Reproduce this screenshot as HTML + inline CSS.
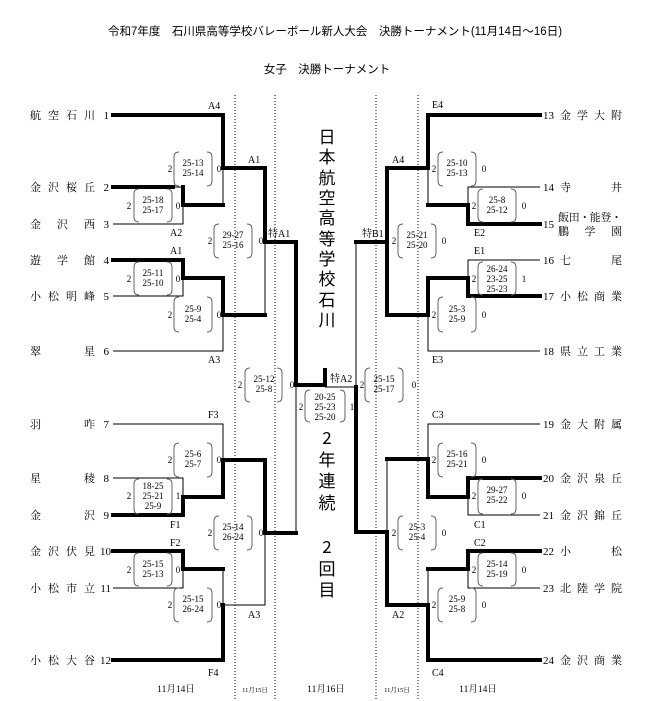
<!DOCTYPE html>
<html><head><meta charset="utf-8"><style>
html,body{margin:0;padding:0;background:#fff;}
svg{display:block;font-family:"Liberation Serif","Noto Serif CJK JP",serif;}
.t{stroke:#000;stroke-width:1;fill:none}
.k{stroke:#000;stroke-width:4;fill:none;stroke-linecap:square}
.d{stroke:#000;stroke-width:1;stroke-dasharray:1,2}
.b{stroke:#666;stroke-width:1;fill:none}
.s{font-size:9px;text-anchor:middle}
.n{font-size:11px}
.lb{font-size:10px}
</style></head><body>
<svg width="653" height="701" viewBox="0 0 653 701" xmlns="http://www.w3.org/2000/svg">
<text x="335" y="35" font-size="11.5" text-anchor="middle" font-family="Liberation Sans,Noto Sans CJK JP,sans-serif">令和7年度　石川県高等学校バレーボール新人大会　決勝トーナメント(11月14日～16日)</text>
<text x="327" y="73" font-size="11.5" text-anchor="middle" font-family="Liberation Sans,Noto Sans CJK JP,sans-serif">女子　決勝トーナメント</text>

<!-- dotted -->
<line class="d" x1="235" y1="95" x2="235" y2="700"/>
<line class="d" x1="275" y1="95" x2="275" y2="700"/>
<line class="d" x1="376" y1="95" x2="376" y2="700"/>
<line class="d" x1="418" y1="95" x2="418" y2="700"/>

<!-- LEFT lines -->
<path class="k" d="M113 115H223V168H265V242H296V385H325V370"/>
<path class="k" d="M113 187H173"/><path class="t" d="M173 187H183"/>
<path class="k" d="M183 187V205H223"/>
<path class="t" d="M223 168V205"/>
<path class="t" d="M113 224H183V205"/>
<path class="k" d="M113 260H183V278H223V315H265"/>
<path class="t" d="M265 242V315"/>
<path class="t" d="M113 296H183V278"/>
<path class="t" d="M113 351H223V315"/>

<path class="t" d="M113 424H223V460"/>
<path class="t" d="M113 478H183V497"/>
<path class="k" d="M113 515H183V497H223V460H265V533H296"/>
<path class="t" d="M296 385V533"/>
<path class="k" d="M113 551H183V569H223"/>
<path class="t" d="M223 569V605H265V533"/>
<path class="t" d="M113 588H183V569"/>
<path class="k" d="M113 660H223V605"/>

<!-- RIGHT lines -->
<path class="k" d="M540 115H428V168H387V315H428V278H468V296H540"/>
<path class="k" d="M387 242H356"/>
<path class="t" d="M356 242V387H325"/>
<path class="t" d="M428 168V205"/>
<path class="k" d="M428 205H468V224H540"/>
<path class="t" d="M540 187H468V205"/>
<path class="t" d="M540 260H468V278"/>
<path class="t" d="M428 315V351H540"/>

<path class="t" d="M540 424H428V459"/>
<path class="k" d="M387 459H428V497H468V478H540"/>
<path class="t" d="M387 459V532"/>
<path class="t" d="M468 497V515H540"/>
<path class="k" d="M356 387V532H387V605H428V660H540"/>
<path class="k" d="M540 551H468V569H428"/>
<path class="t" d="M428 569V605"/>
<path class="t" d="M468 569V588H540"/>

<!-- node labels -->
<g class="lb">
<text x="208" y="109">A4</text><text x="248" y="163">A1</text><text x="170" y="236">A2</text>
<text x="268" y="237">特A1</text><text x="170" y="254">A1</text><text x="208" y="363">A3</text>
<text x="208" y="418">F3</text><text x="170" y="528">F1</text><text x="170" y="546">F2</text>
<text x="248" y="618">A3</text><text x="208" y="676">F4</text>
<text x="330" y="382">特A2</text>
<text x="432" y="108">E4</text><text x="392" y="163">A4</text><text x="362" y="237">特B1</text>
<text x="474" y="236">E2</text><text x="474" y="254">E1</text><text x="432" y="363">E3</text>
<text x="432" y="418">C3</text><text x="474" y="528">C1</text><text x="474" y="546">C2</text>
<text x="392" y="618">A2</text><text x="432" y="676">C4</text>
</g>

<!-- boxes -->
<g>
<path class="b" d="M179 152q-5 0-5 5v24q0 5 5 5M207 152q5 0 5 5v24q0 5-5 5"/><text class="s" x="193" y="166">25-13</text><text class="s" x="193" y="176">25-14</text><text class="s" x="170" y="172">2</text><text class="s" x="219" y="172">0</text>
<path class="b" d="M139 189q-5 0-5 5v23q0 5 5 5M167 189q5 0 5 5v23q0 5-5 5"/><text class="s" x="153" y="203">25-18</text><text class="s" x="153" y="213">25-17</text><text class="s" x="129" y="209">2</text><text class="s" x="178" y="209">0</text>
<path class="b" d="M219 224q-5 0-5 5v24q0 5 5 5M247 224q5 0 5 5v24q0 5-5 5"/><text class="s" x="233" y="238">29-27</text><text class="s" x="233" y="248">25-16</text><text class="s" x="210" y="244">2</text><text class="s" x="261" y="244">0</text>
<path class="b" d="M139 262q-5 0-5 5v23q0 5 5 5M167 262q5 0 5 5v23q0 5-5 5"/><text class="s" x="153" y="276">25-11</text><text class="s" x="153" y="286">25-10</text><text class="s" x="129" y="282">2</text><text class="s" x="178" y="282">0</text>
<path class="b" d="M179 297q-5 0-5 5v25q0 5 5 5M207 297q5 0 5 5v25q0 5-5 5"/><text class="s" x="193" y="312">25-9</text><text class="s" x="193" y="322">25-4</text><text class="s" x="170" y="318">2</text><text class="s" x="219" y="318">0</text>
<path class="b" d="M250 368q-5 0-5 5v24q0 5 5 5M277 368q5 0 5 5v24q0 5-5 5"/><text class="s" x="264" y="382">25-12</text><text class="s" x="264" y="392">25-8</text><text class="s" x="240" y="388">2</text><text class="s" x="292" y="388">0</text>
<path class="b" d="M179 443q-5 0-5 5v24q0 5 5 5M207 443q5 0 5 5v24q0 5-5 5"/><text class="s" x="193" y="457">25-6</text><text class="s" x="193" y="467">25-7</text><text class="s" x="170" y="463">2</text><text class="s" x="219" y="463">0</text>
<path class="b" d="M139 479q-5 0-5 5v25q0 5 5 5M167 479q5 0 5 5v25q0 5-5 5"/><text class="s" x="153" y="489">18-25</text><text class="s" x="153" y="499">25-21</text><text class="s" x="153" y="509">25-9</text><text class="s" x="129" y="499">2</text><text class="s" x="178" y="499">1</text>
<path class="b" d="M219 516q-5 0-5 5v24q0 5 5 5M247 516q5 0 5 5v24q0 5-5 5"/><text class="s" x="233" y="530">25-14</text><text class="s" x="233" y="540">26-24</text><text class="s" x="210" y="536">2</text><text class="s" x="261" y="536">0</text>
<path class="b" d="M139 553q-5 0-5 5v23q0 5 5 5M167 553q5 0 5 5v23q0 5-5 5"/><text class="s" x="153" y="567">25-15</text><text class="s" x="153" y="577">25-13</text><text class="s" x="129" y="573">2</text><text class="s" x="178" y="573">0</text>
<path class="b" d="M179 588q-5 0-5 5v24q0 5 5 5M207 588q5 0 5 5v24q0 5-5 5"/><text class="s" x="193" y="602">25-15</text><text class="s" x="193" y="612">26-24</text><text class="s" x="170" y="608">2</text><text class="s" x="219" y="608">0</text>
<path class="b" d="M310 390q-5 0-5 5v22q0 5 5 5M340 390q5 0 5 5v22q0 5-5 5"/><text class="s" x="325" y="400">20-25</text><text class="s" x="325" y="410">25-23</text><text class="s" x="325" y="420">25-20</text><text class="s" x="301" y="410">2</text><text class="s" x="352" y="410">1</text>
<path class="b" d="M370 368q-5 0-5 5v24q0 5 5 5M398 368q5 0 5 5v24q0 5-5 5"/><text class="s" x="384" y="382">25-15</text><text class="s" x="384" y="392">25-17</text><text class="s" x="362" y="388">2</text><text class="s" x="414" y="388">0</text>
<path class="b" d="M443 152q-5 0-5 5v24q0 5 5 5M471 152q5 0 5 5v24q0 5-5 5"/><text class="s" x="457" y="166">25-10</text><text class="s" x="457" y="176">25-13</text><text class="s" x="434" y="172">2</text><text class="s" x="484" y="172">0</text>
<path class="b" d="M483 189q-5 0-5 5v23q0 5 5 5M511 189q5 0 5 5v23q0 5-5 5"/><text class="s" x="497" y="203">25-8</text><text class="s" x="497" y="213">25-12</text><text class="s" x="474" y="209">2</text><text class="s" x="524" y="209">0</text>
<path class="b" d="M403 224q-5 0-5 5v24q0 5 5 5M431 224q5 0 5 5v24q0 5-5 5"/><text class="s" x="417" y="238">25-21</text><text class="s" x="417" y="248">25-20</text><text class="s" x="394" y="244">2</text><text class="s" x="444" y="244">0</text>
<path class="b" d="M483 262q-5 0-5 5v23q0 5 5 5M511 262q5 0 5 5v23q0 5-5 5"/><text class="s" x="497" y="272">26-24</text><text class="s" x="497" y="282">23-25</text><text class="s" x="497" y="292">25-23</text><text class="s" x="474" y="282">2</text><text class="s" x="524" y="282">1</text>
<path class="b" d="M443 297q-5 0-5 5v25q0 5 5 5M471 297q5 0 5 5v25q0 5-5 5"/><text class="s" x="457" y="312">25-3</text><text class="s" x="457" y="322">25-9</text><text class="s" x="434" y="318">2</text><text class="s" x="484" y="318">0</text>
<path class="b" d="M443 443q-5 0-5 5v24q0 5 5 5M471 443q5 0 5 5v24q0 5-5 5"/><text class="s" x="457" y="457">25-16</text><text class="s" x="457" y="467">25-21</text><text class="s" x="434" y="463">2</text><text class="s" x="484" y="463">0</text>
<path class="b" d="M483 479q-5 0-5 5v25q0 5 5 5M511 479q5 0 5 5v25q0 5-5 5"/><text class="s" x="497" y="493">29-27</text><text class="s" x="497" y="503">25-22</text><text class="s" x="474" y="499">2</text><text class="s" x="524" y="499">0</text>
<path class="b" d="M403 516q-5 0-5 5v24q0 5 5 5M431 516q5 0 5 5v24q0 5-5 5"/><text class="s" x="417" y="530">25-3</text><text class="s" x="417" y="540">25-4</text><text class="s" x="394" y="536">2</text><text class="s" x="444" y="536">0</text>
<path class="b" d="M483 553q-5 0-5 5v23q0 5 5 5M511 553q5 0 5 5v23q0 5-5 5"/><text class="s" x="497" y="567">25-14</text><text class="s" x="497" y="577">25-19</text><text class="s" x="474" y="573">2</text><text class="s" x="524" y="573">0</text>
<path class="b" d="M443 588q-5 0-5 5v24q0 5 5 5M471 588q5 0 5 5v24q0 5-5 5"/><text class="s" x="457" y="602">25-9</text><text class="s" x="457" y="612">25-8</text><text class="s" x="434" y="608">2</text><text class="s" x="484" y="608">0</text>
</g>

<!-- left names -->
<g class="n">
<text x="30" y="119" textLength="65" lengthAdjust="spacing">航空石川</text><text x="109" y="119" text-anchor="end">1</text>
<text x="30" y="191" textLength="65" lengthAdjust="spacing">金沢桜丘</text><text x="109" y="191" text-anchor="end">2</text>
<text x="30" y="228" textLength="65" lengthAdjust="spacing">金沢西</text><text x="109" y="228" text-anchor="end">3</text>
<text x="30" y="264" textLength="65" lengthAdjust="spacing">遊学館</text><text x="109" y="264" text-anchor="end">4</text>
<text x="30" y="300" textLength="65" lengthAdjust="spacing">小松明峰</text><text x="109" y="300" text-anchor="end">5</text>
<text x="30" y="355" textLength="65" lengthAdjust="spacing">翠星</text><text x="109" y="355" text-anchor="end">6</text>
<text x="30" y="428" textLength="65" lengthAdjust="spacing">羽咋</text><text x="109" y="428" text-anchor="end">7</text>
<text x="30" y="482" textLength="65" lengthAdjust="spacing">星稜</text><text x="109" y="482" text-anchor="end">8</text>
<text x="30" y="519" textLength="65" lengthAdjust="spacing">金沢</text><text x="109" y="519" text-anchor="end">9</text>
<text x="30" y="555" textLength="65" lengthAdjust="spacing">金沢伏見</text><text x="111" y="555" text-anchor="end">10</text>
<text x="30" y="592" textLength="65" lengthAdjust="spacing">小松市立</text><text x="111" y="592" text-anchor="end">11</text>
<text x="30" y="664" textLength="65" lengthAdjust="spacing">小松大谷</text><text x="111" y="664" text-anchor="end">12</text>
</g>
<!-- right names -->
<g class="n">
<text x="543" y="119">13</text><text x="560" y="119" textLength="62" lengthAdjust="spacing">金学大附</text>
<text x="543" y="191">14</text><text x="560" y="191" textLength="62" lengthAdjust="spacing">寺井</text>
<text x="543" y="228">15</text><text x="558" y="221" textLength="64" lengthAdjust="spacing">飯田・能登・</text><text x="558" y="235" textLength="64" lengthAdjust="spacing">鵬学園</text>
<text x="543" y="264">16</text><text x="560" y="264" textLength="62" lengthAdjust="spacing">七尾</text>
<text x="543" y="300">17</text><text x="560" y="300" textLength="62" lengthAdjust="spacing">小松商業</text>
<text x="543" y="355">18</text><text x="560" y="355" textLength="62" lengthAdjust="spacing">県立工業</text>
<text x="543" y="428">19</text><text x="560" y="428" textLength="62" lengthAdjust="spacing">金大附属</text>
<text x="543" y="482">20</text><text x="560" y="482" textLength="62" lengthAdjust="spacing">金沢泉丘</text>
<text x="543" y="519">21</text><text x="560" y="519" textLength="62" lengthAdjust="spacing">金沢錦丘</text>
<text x="543" y="555">22</text><text x="560" y="555" textLength="62" lengthAdjust="spacing">小松</text>
<text x="543" y="592">23</text><text x="560" y="592" textLength="62" lengthAdjust="spacing">北陸学院</text>
<text x="543" y="664">24</text><text x="560" y="664" textLength="62" lengthAdjust="spacing">金沢商業</text>
</g>

<!-- center vertical -->
<g font-size="17" text-anchor="middle" font-family="Noto Sans CJK JP,sans-serif">
<text x="327" y="143">日</text><text x="327" y="163">本</text><text x="327" y="184">航</text><text x="327" y="204">空</text><text x="327" y="224">高</text><text x="327" y="245">等</text><text x="327" y="265">学</text><text x="327" y="285">校</text><text x="327" y="306">石</text><text x="327" y="326">川</text>
<text x="327" y="444">2</text><text x="327" y="466">年</text><text x="327" y="487">連</text><text x="327" y="509">続</text>
<text x="327" y="553">2</text><text x="327" y="575">回</text><text x="327" y="596">目</text>
</g>

<!-- dates -->
<g font-size="9.5" text-anchor="middle">
<text x="176" y="692">11月14日</text>
<text x="255" y="692" font-size="6.5">11月15日</text>
<text x="326" y="692">11月16日</text>
<text x="397" y="692" font-size="6.5">11月15日</text>
<text x="478" y="692">11月14日</text>
</g>
</svg>
</body></html>
